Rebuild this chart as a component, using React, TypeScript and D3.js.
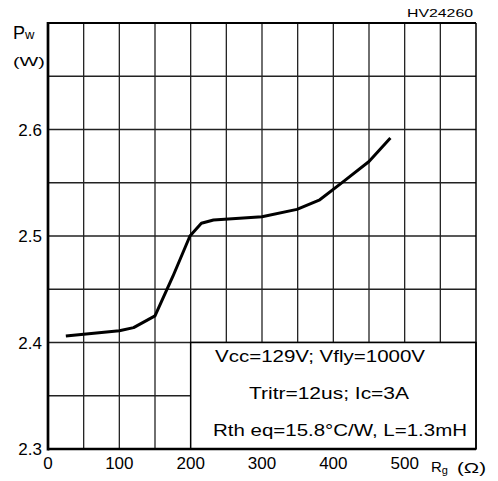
import React from 'react';
import * as d3 from 'd3';

// Rg (ohm) vs Pw (W)
const rg = [25, 100, 120, 150, 175, 199, 215, 232, 300, 349, 381, 414, 450, 480];
const pw = [2.406, 2.411, 2.414, 2.425, 2.462, 2.5, 2.512, 2.515, 2.518, 2.525, 2.534, 2.551, 2.57, 2.592];

const xTicks = [0, 100, 200, 300, 400, 500];
const yTicks = [2.3, 2.4, 2.5, 2.6];
const notes = ['Vcc=129V; Vfly=1000V', 'Tritr=12us; Ic=3A', 'Rth eq=15.8°C/W, L=1.3mH'];

const W = 498;
const H = 481;
const left = 48;
const right = 476;
const top = 23;
const bottom = 449;
const font = 'Liberation Sans, Arial, sans-serif';

export default function App() {
  const x = d3.scaleLinear().domain([0, 600]).range([left, right]);
  const y = d3.scaleLinear().domain([2.3, 2.7]).range([bottom, top]);

  const line = d3.line<number>()
    .x((d, i) => x(rg[i]))
    .y(d => y(d))
    .curve(d3.curveLinear);

  const xGrid = d3.range(50, 600, 50);
  const yGrid = d3.range(2.35, 2.69, 0.05);

  return (
    <svg width={W} height={H} style={{ position: 'absolute', left: 0, top: 0, background: '#fff' }}>
      <rect x={0} y={0} width={W} height={H} fill="#fff" />
      <g stroke="#222" strokeWidth={1.3}>
        {xGrid.map(v => (
          <line key={'x' + v} x1={x(v)} x2={x(v)} y1={top} y2={bottom} />
        ))}
        {yGrid.map(v => (
          <line key={'y' + v} x1={left} x2={right} y1={y(v)} y2={y(v)} />
        ))}
      </g>
      <rect x={x(200)} y={y(2.4)} width={right - x(200)} height={bottom - y(2.4)}
        fill="#fff" stroke="#000" strokeWidth={1.5} />
      <g fontFamily={font} fontSize={16} fill="#000" textAnchor="middle">
        <text x={320} y={362} textLength={210} lengthAdjust="spacingAndGlyphs">{notes[0]}</text>
        <text x={329} y={399} textLength={160} lengthAdjust="spacingAndGlyphs">{notes[1]}</text>
        <text x={340} y={436} textLength={254} lengthAdjust="spacingAndGlyphs">{notes[2]}</text>
      </g>
      <path d={line(pw) || ''} fill="none" stroke="#000" strokeWidth={3} strokeLinejoin="round" />
      <line x1={left} x2={right} y1={top} y2={top} stroke="#000" strokeWidth={2} />
      <line x1={right} x2={right} y1={top} y2={bottom} stroke="#000" strokeWidth={1.5} />
      <line x1={left} x2={left} y1={top - 1} y2={bottom + 1.5} stroke="#000" strokeWidth={2.7} />
      <line x1={left} x2={right} y1={bottom} y2={bottom} stroke="#000" strokeWidth={2.7} />
      <g fontFamily={font} fontSize={17} fill="#000">
        {xTicks.map(v => (
          <text key={v} x={x(v)} y={469} textAnchor="middle">{v}</text>
        ))}
        {yTicks.map(v => (
          <text key={v} x={42} y={y(v) + 6} textAnchor="end">{v.toFixed(1)}</text>
        ))}
      </g>
      <g fontFamily={font} fill="#000">
        <text x={13} y={39} fontSize={18}>P<tspan fontSize={13}>w</tspan></text>
        <text x={13} y={66} fontSize={13} textLength={32} lengthAdjust="spacingAndGlyphs">(W)</text>
        <text x={407} y={17} fontSize={11.5} textLength={66} lengthAdjust="spacingAndGlyphs">HV24260</text>
        <text x={431} y={472} fontSize={15}>R<tspan fontSize={11} dy={2}>g</tspan></text>
        <text x={457} y={473} fontSize={14} textLength={29} lengthAdjust="spacingAndGlyphs">(Ω)</text>
      </g>
    </svg>
  );
}
